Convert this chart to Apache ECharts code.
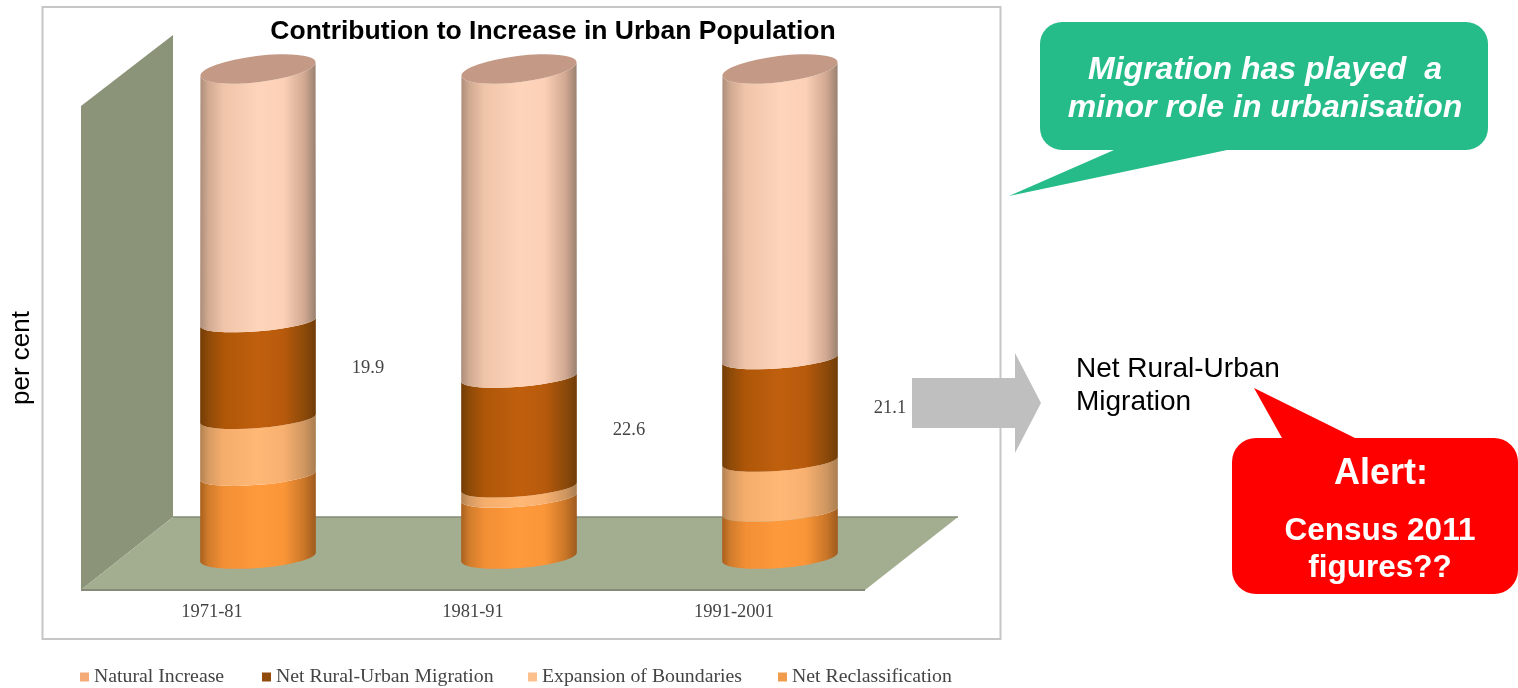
<!DOCTYPE html>
<html><head><meta charset="utf-8">
<style>html,body{margin:0;padding:0;background:#fff}#c{width:1518px;height:688px}</style>
<script src="https://cdn.jsdelivr.net/npm/echarts@6/dist/echarts.min.js"></script>
</head><body><div id="c"></div>
<script>
const periods = ['1971-81', '1981-91', '1991-2001'];
const netReclassification = [17.1, 12.6, 9.7];
const expansionOfBoundaries = [11.7, 2.1, 10.3];
const netRuralUrbanMigration = [19.9, 22.6, 21.1];
const naturalIncrease = [51.3, 62.7, 58.9];
const legendNames = ['Natural Increase', 'Net Rural-Urban Migration', 'Expansion of Boundaries', 'Net Reclassification'];

const SANS = '"Liberation Sans", Arial, sans-serif';
const SERIF = '"Liberation Serif", "Times New Roman", serif';
const RX = 58;

function grad(stops) {
  return new echarts.graphic.LinearGradient(0, 0, 1, 0, stops.map((c, i) => ({offset: [0, .07, .2, .5, .72, .9, 1][i], color: c})));
}
const fills = {
  reclass: grad(['#a85f1e', '#d07c2c', '#f28e34', '#ff9a3c', '#fb9638', '#c97628', '#9d5a1e']),
  expansion: grad(['#b08050', '#d69a62', '#f5ad6c', '#ffb876', '#f8b070', '#cf9660', '#a87c50']),
  migration: grad(['#723c06', '#8d4a08', '#ae5608', '#c0600e', '#b85a0c', '#8c4a0a', '#703c08']),
  natural: grad(['#ab8c7a', '#cfa990', '#efc4a9', '#fed4ba', '#fbd0b6', '#d1a891', '#98806f'])
};

// Ellipse geometry of a band edge: the axis value marks the front of the rim.
function rim(value) {
  if (value <= 0.01) return {ry: 11, tilt: 4.5};
  if (value >= 99.9) return {ry: 13, tilt: 7};
  return {ry: 9.5, tilt: 4.5};
}
function ends(cx, frontY, r) {
  const t = r.tilt * Math.PI / 180;
  const dx = RX * Math.cos(t), dy = RX * Math.sin(t), cy = frontY - r.ry;
  return {lx: cx - dx, ly: cy + dy, rx: cx + dx, ry: cy - dy};
}

function cylinderRender(fill, cap, labels) {
  return function (params, api) {
    const idx = api.value(0);
    const v0 = api.value(1), v1 = api.value(2);
    const bottom = api.coord([idx, v0]);
    const top = api.coord([idx, v1]);
    const cx = bottom[0];
    const rt = rim(v1), rb = rim(v0);
    const a = ends(cx, top[1], rt), b = ends(cx, bottom[1], rb);
    const d = `M ${a.lx} ${a.ly} A ${RX} ${rt.ry} ${-rt.tilt} 0 0 ${a.rx} ${a.ry} ` +
      `L ${b.rx} ${b.ry} A ${RX} ${rb.ry} ${-rb.tilt} 0 1 ${b.lx} ${b.ly} Z`;
    const children = [{type: 'path', shape: {pathData: d}, style: {fill: fill}}];
    if (cap) {
      const e = `M ${a.lx} ${a.ly} A ${RX} ${rt.ry} ${-rt.tilt} 0 0 ${a.rx} ${a.ry} A ${RX} ${rt.ry} ${-rt.tilt} 0 0 ${a.lx} ${a.ly} Z`;
      children.push({type: 'path', shape: {pathData: e}, style: {fill: '#c49a86'}});
    }
    if (labels) {
      children.push({type: 'text', style: {
        x: cx + 110, y: (top[1] + bottom[1]) / 2 - 11.5, text: String(labels[idx]),
        align: 'center', verticalAlign: 'middle', fill: '#444', font: '18.5px ' + SERIF
      }});
    }
    return {type: 'group', children};
  };
}

let base = periods.map(() => 0);
function stackRows(values) {
  const rows = values.map((v, i) => [i, base[i], base[i] + v]);
  base = base.map((b, i) => b + values[i]);
  return rows;
}
function makeSeries(name, values, fill, color, cap, label) {
  return {
    type: 'custom', name, coordinateSystem: 'cartesian2d',
    itemStyle: {color}, encode: {x: 0, y: [1, 2]},
    data: stackRows(values),
    renderItem: cylinderRender(fill, cap, label)
  };
}

const series = [
  makeSeries(legendNames[3], netReclassification, fills.reclass, '#f09c4c'),
  makeSeries(legendNames[2], expansionOfBoundaries, fills.expansion, '#fcc08c'),
  makeSeries(legendNames[1], netRuralUrbanMigration, fills.migration, '#8f4a0c', false, netRuralUrbanMigration),
  makeSeries(legendNames[0], naturalIncrease, fills.natural, '#f4ab78', true)
];

function legendAt(name, left) {
  return {data: [name], left, top: 667, icon: 'rect', itemWidth: 9, itemHeight: 9, itemGap: 0,
    selectedMode: false, padding: 0,
    textStyle: {fontFamily: SERIF, fontSize: 19.8, color: '#444'}};
}
function poly(points, fill) {
  return {type: 'polygon', shape: {points}, style: {fill}};
}
function txt(x, y, text, font, fill, align) {
  return {type: 'text', style: {x, y, text, font, fill, align: align || 'center', verticalAlign: 'middle'}};
}

const option = {
  animation: false,
  backgroundColor: '#fff',
  title: {text: 'Contribution to Increase in Urban Population', left: 548, textAlign: 'center', top: 13,
    textStyle: {fontFamily: SANS, fontSize: 26.5, fontWeight: 'bold', color: '#000'}},
  grid: {left: 127.5, width: 783, top: 82, height: 486, outerBoundsMode: 'none'},
  xAxis: {type: 'category', data: periods, axisLine: {show: false}, axisTick: {show: false},
    axisLabel: {margin: 35, fontFamily: SERIF, fontSize: 18.5, color: '#444', padding: [0, 92, 0, 0]}},
  yAxis: {type: 'value', min: 0, max: 100, interval: 20, splitLine: {show: false}, axisLine: {show: false},
    axisTick: {show: false}, axisLabel: {show: false}},
  legend: [legendAt(legendNames[0], 80), legendAt(legendNames[1], 262), legendAt(legendNames[2], 528), legendAt(legendNames[3], 778)],
  series,
  graphic: [
    {type: 'rect', shape: {x: 42.5, y: 7, width: 958, height: 632}, style: {fill: '#fff', stroke: '#c6c6c6', lineWidth: 2}},
    poly([[81, 106], [173, 35], [173, 517], [81, 590]], '#8b9379'),
    poly([[81, 590], [173, 517], [958, 517], [865, 590]], '#a3ad90'),
    {type: 'line', shape: {x1: 173, y1: 517, x2: 958, y2: 517}, style: {stroke: '#858b76', lineWidth: 1.5}},
    {type: 'line', shape: {x1: 81, y1: 590, x2: 865, y2: 590}, style: {stroke: '#858b76', lineWidth: 2}},
    {type: 'text', x: 22, y: 358, rotation: Math.PI / 2, style: {x: 0, y: 0, text: 'per cent', font: '26px ' + SANS, fill: '#000', align: 'center', verticalAlign: 'middle'}},
    poly([[912, 378], [1015, 378], [1015, 353], [1041, 403], [1015, 453], [1015, 428], [912, 428]], '#bfbfbf'),
    txt(1076, 369, 'Net Rural-Urban', '28px ' + SANS, '#000', 'left'),
    txt(1076, 402, 'Migration', '28px ' + SANS, '#000', 'left'),
    poly([[1009, 196], [1114, 150], [1114, 145], [1227, 145], [1227, 150]], '#25bc8a'),
    {type: 'rect', shape: {x: 1040, y: 22, width: 448, height: 128, r: 22}, style: {fill: '#25bc8a'}},
    txt(1265, 70, 'Migration has played  a', 'italic bold 32px ' + SANS, '#fff'),
    txt(1265, 108, 'minor role in urbanisation', 'italic bold 32px ' + SANS, '#fff'),
    poly([[1254, 388], [1282, 438], [1282, 445], [1355, 445], [1355, 438]], '#ff0000'),
    {type: 'rect', shape: {x: 1232, y: 438, width: 286, height: 156, r: 24}, style: {fill: '#ff0000'}},
    txt(1381, 474, 'Alert:', 'bold 36px ' + SANS, '#fff'),
    txt(1380, 531, 'Census 2011', 'bold 31.5px ' + SANS, '#fff'),
    txt(1380, 568, 'figures??', 'bold 31.5px ' + SANS, '#fff')
  ]
};
const chart = echarts.init(document.getElementById('c'));
chart.setOption(option);
</script></body></html>
